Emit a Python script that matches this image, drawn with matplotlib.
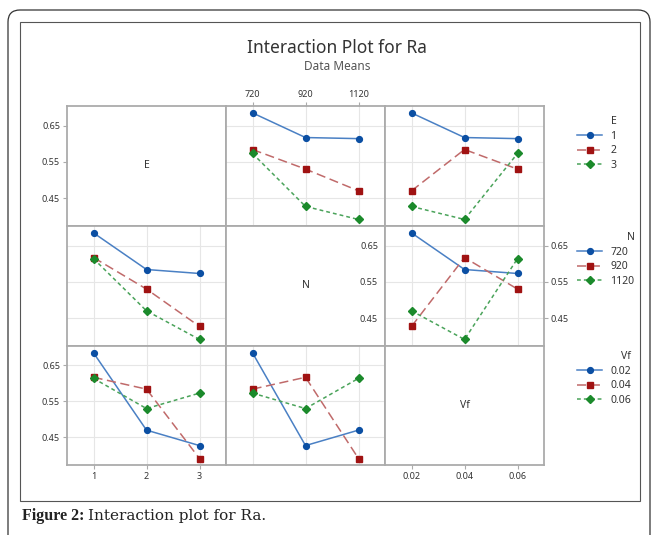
import matplotlib
matplotlib.use("Agg")
import matplotlib.pyplot as plt
from matplotlib.lines import Line2D
from matplotlib.patches import FancyBboxPatch, Rectangle
from matplotlib.transforms import IdentityTransform
import pandas as pd

# ---- data: 9 runs (L9 design) ----
run_E = [1, 1, 1, 2, 2, 2, 3, 3, 3]
run_N = [720, 920, 1120, 720, 920, 1120, 720, 920, 1120]
run_Vf = [0.02, 0.04, 0.06, 0.04, 0.06, 0.02, 0.06, 0.02, 0.04]
run_Ra = [0.685, 0.617, 0.614, 0.584, 0.530, 0.470, 0.573, 0.427, 0.391]

factors = ["E", "N", "Vf"]
levels = {"E": [1, 2, 3], "N": [720, 920, 1120], "Vf": [0.02, 0.04, 0.06]}
tick_labels = {"E": ["1", "2", "3"], "N": ["720", "920", "1120"],
               "Vf": ["0.02", "0.04", "0.06"]}
xlims = {"E": (0.5, 3.5), "N": (620, 1220), "Vf": (0.01, 0.07)}
y_ticks = [0.45, 0.55, 0.65]
y_ticklabels = ["0.45", "0.55", "0.65"]

df = pd.DataFrame({"E": run_E, "N": run_N, "Vf": run_Vf, "Ra": run_Ra})

W, H = 658, 535
fig = plt.figure(figsize=(W / 100, H / 100), dpi=100)
plt.rcParams['font.family'] = ['Noto Sans', 'DejaVu Sans']

def fx(px):
    return px / W

def fy(py):
    return 1 - py / H

# frames
outer = FancyBboxPatch((8, -30), 642, H - 10 + 30, boxstyle="round,pad=0,rounding_size=12",
                       transform=IdentityTransform(), fill=False, ec="#333333", lw=0.9)
fig.patches.append(outer)
inner = Rectangle((fx(20), fy(501)), fx(640) - fx(20), fy(22) - fy(501),
                  transform=fig.transFigure, fill=False, ec="#555555", lw=0.8)
fig.patches.append(inner)

styles = [
    dict(color="#4a80c4", mfc="#0b4fa3", mec="#0b4fa3", marker="o", ls="-", ms=4.2, lw=1.1),
    dict(color="#c06a6a", mfc="#a01212", mec="#a01212", marker="s", ls=(0, (6, 3)), ms=4.2, lw=1.1),
    dict(color="#4aa35a", mfc="#1b8a2b", mec="#1b8a2b", marker="D", ls=(0, (2.5, 2)), ms=3.8, lw=1.1),
]

col_x = [67, 226, 385, 544]
row_y = [106, 226, 346, 465]
ylim = (0.373, 0.704)
spine_c = "#ababab"

for r, trace_f in enumerate(factors):
    for c, x_f in enumerate(factors):
        ax = fig.add_axes([fx(col_x[c]), fy(row_y[r + 1]),
                           fx(col_x[c + 1]) - fx(col_x[c]),
                           fy(row_y[r]) - fy(row_y[r + 1])])
        for s in ax.spines.values():
            s.set_color(spine_c)
            s.set_linewidth(1.3)
        ax.set_xlim(xlims[x_f])
        ax.set_ylim(ylim)
        ax.tick_params(axis="both", length=3, color=spine_c, labelsize=6.5,
                       labelcolor="#333333", pad=2)
        ax.set_xticks(levels[x_f])
        ax.set_yticks(y_ticks)
        ax.set_xticklabels([])
        ax.set_yticklabels([])
        ax.tick_params(axis="x", bottom=False, top=False)
        ax.tick_params(axis="y", left=False, right=False)
        if r == 0 and c == 1:
            ax.tick_params(axis="x", top=True, labeltop=True)
            ax.set_xticklabels(tick_labels[x_f])
        if r == 2 and c in (0, 2):
            ax.tick_params(axis="x", bottom=True, labelbottom=True)
            ax.set_xticklabels(tick_labels[x_f])
        if c == 0 and r in (0, 2):
            ax.tick_params(axis="y", left=True, labelleft=True)
            ax.set_yticklabels(y_ticklabels)
        if c == 2 and r == 1:
            ax.tick_params(axis="y", right=True, labelright=True)
            ax.set_yticklabels(y_ticklabels)
        if r == c:
            ax.text(0.5, 0.5, x_f, transform=ax.transAxes, ha="center", va="center",
                    fontsize=7.5, color="#333333")
            continue
        ax.grid(True, color="#e6e6e6", lw=0.8)
        ax.set_axisbelow(True)
        means = df.groupby([trace_f, x_f])["Ra"].mean()
        for k, lv in enumerate(levels[trace_f]):
            ys = [means.loc[(lv, xv)] for xv in levels[x_f]]
            ax.plot(levels[x_f], ys, **styles[k])

# legends
legend_tops = [116, 232, 351]
legend_labels = {"E": ["1", "2", "3"], "N": ["720", "920", "1120"],
                 "Vf": ["0.02", "0.04", "0.06"]}
for r, f in enumerate(factors):
    handles = [Line2D([], [], **styles[k]) for k in range(3)]
    leg = fig.legend(handles, legend_labels[f], title=f, loc="upper left",
                     bbox_to_anchor=(fx(577), fy(legend_tops[r])), frameon=False,
                     fontsize=7.5, title_fontsize=7.5, handlelength=2.4,
                     handletextpad=0.8, labelspacing=0.35, borderpad=0,
                     borderaxespad=0, alignment="right")
    for t in leg.get_texts():
        t.set_color("#333333")
    leg.get_title().set_color("#333333")

fig.text(fx(337), fy(48), "Interaction Plot for Ra", ha="center", va="center",
         fontsize=12.5, color="#333333")
fig.text(fx(337), fy(67), "Data Means", ha="center", va="center",
         fontsize=8.5, color="#555555")

fig.text(fx(22), fy(516), "Figure 2:", ha="left", va="center", fontsize=11.5,
         fontweight="bold", family=["Liberation Serif"], color="#222222")
fig.text(fx(88), fy(516), "Interaction plot for Ra.", ha="left", va="center",
         fontsize=11, family=["DejaVu Serif"], color="#222222")

fig.savefig("out.png", dpi=100)
